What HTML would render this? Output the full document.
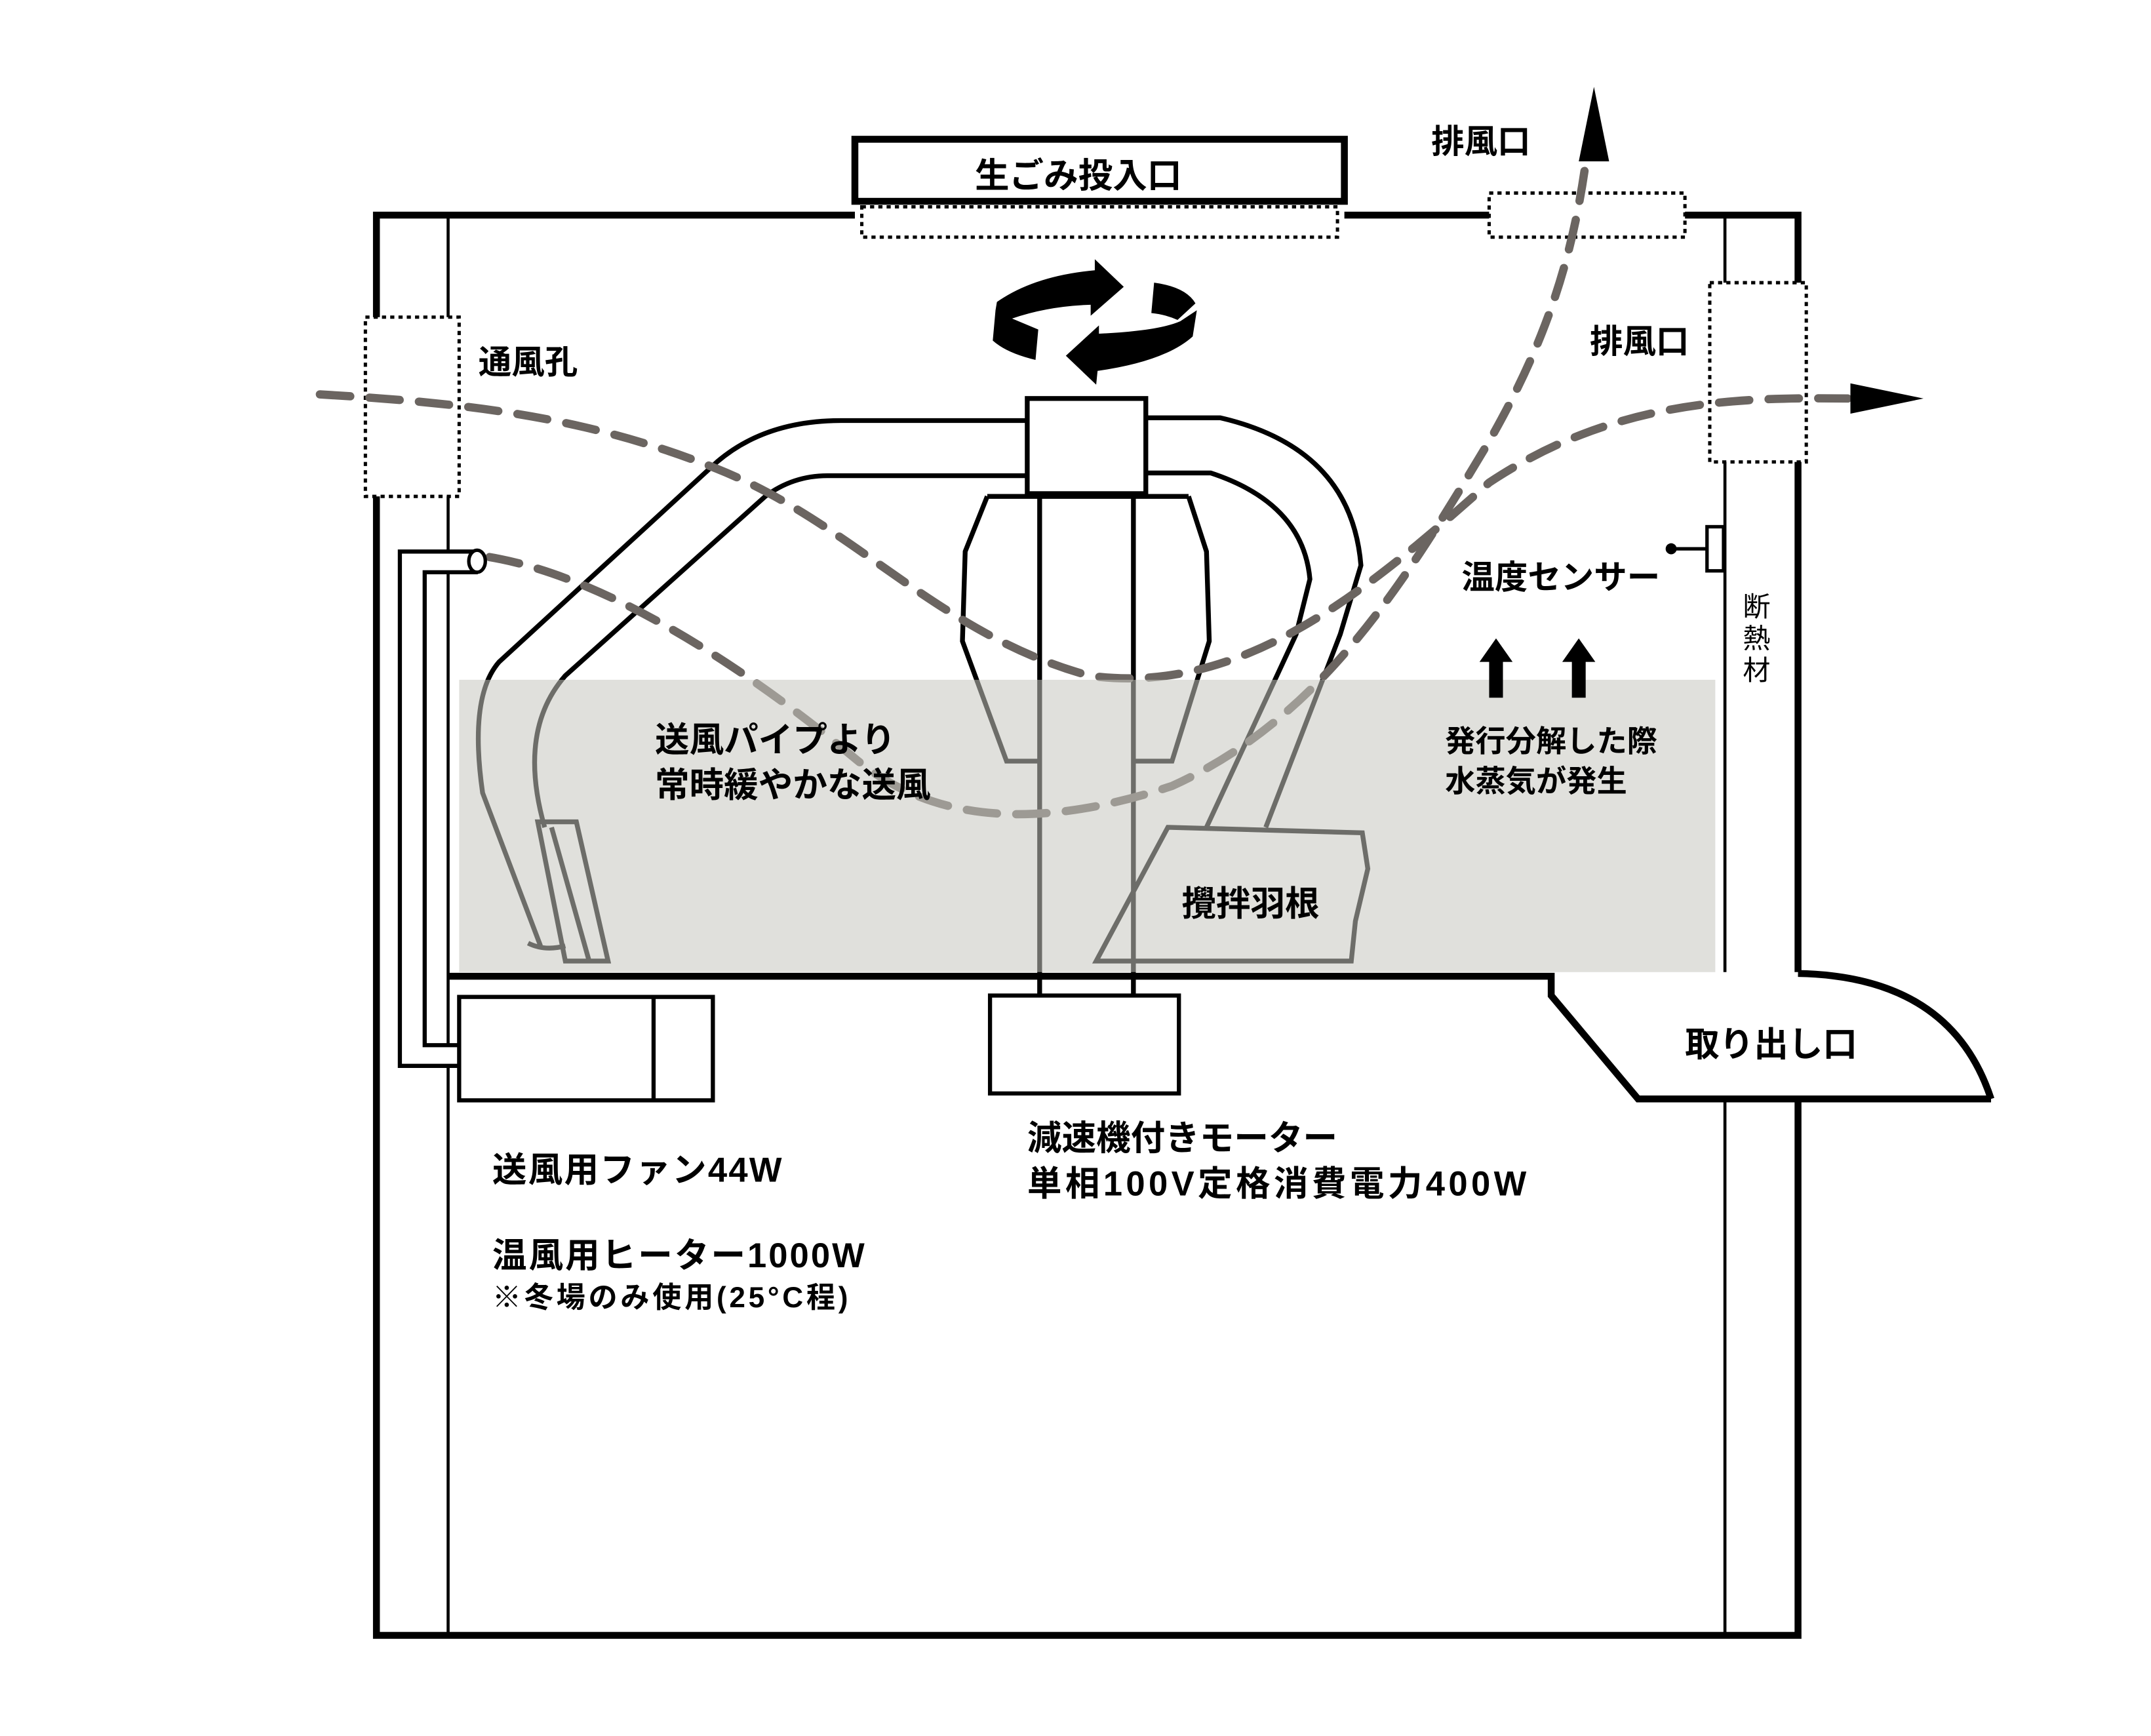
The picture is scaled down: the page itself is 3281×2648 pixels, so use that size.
<!DOCTYPE html>
<html><head><meta charset="utf-8"><style>
html,body{margin:0;padding:0;background:#fff;}
svg{display:block}
text{font-family:"Liberation Sans","Noto Sans CJK JP",sans-serif;font-weight:bold;fill:#000;}
</style></head><body>
<svg width="3281" height="2648" viewBox="0 0 1560 1259" preserveAspectRatio="none" xmlns="http://www.w3.org/2000/svg">
<rect width="1560" height="1259" fill="#fff"/>
<g fill="none" stroke="#000" stroke-width="5">
<polyline points="620,156 273,156 273,1186 1304,1186 1304,797"/>
<line x1="975" y1="156" x2="1080" y2="156"/>
<polyline points="1222,156 1304,156 1304,705"/>
<polyline points="325,708 1125,708 1125,722 1188,797 1444,797"/>
<path d="M1304,706 Q1415,708 1444,797"/>
<rect x="620" y="101" width="355" height="45"/>
</g>
<g stroke="#000" stroke-width="2.2" fill="none">
<line x1="325" y1="156" x2="325" y2="1186"/>
<line x1="1251" y1="156" x2="1251" y2="705"/>
<line x1="1251" y1="797" x2="1251" y2="1186"/>
</g>
<g fill="#fff" stroke="#000" stroke-width="2.4" stroke-dasharray="3,3">
<rect x="625" y="150" width="345" height="22"/>
<rect x="1080" y="140" width="142" height="32"/>
<rect x="1240" y="205" width="70" height="130"/>
<rect x="265" y="230" width="68" height="130"/>
</g>
<g stroke="#000" stroke-width="2.5" fill="#fff">
<rect x="1238" y="382" width="12" height="32"/>
<line x1="1212" y1="398" x2="1238" y2="398"/>
</g>
<circle cx="1212" cy="398" r="4" fill="#000"/>
<g fill="none" stroke="#000" stroke-width="3.5">
<path d="M745,305 L610,305 Q555,305 520,335 L362,480 Q340,505 350,575 L392,686"/>
<path d="M745,345 L600,345 Q575,345 555,360 L410,490 Q375,530 395,600"/>
<path d="M831,303 L885,303 Q980,325 987,410 L972,460 L918,600"/>
<path d="M831,343 L878,343 Q945,365 950,420 L940,460 L875,600"/>
<path d="M716,360 L700,400 L698,465 L730,552 L754,552"/>
<path d="M862,360 L875,400 L877,465 L850,552 L822,552"/>
<line x1="716" y1="360" x2="862" y2="360"/>
<line x1="754" y1="360" x2="754" y2="722"/>
<line x1="822" y1="360" x2="822" y2="722"/>
<path d="M390,596 L418,596 L441,697 L410,697 Z"/>
<line x1="400" y1="600" x2="427" y2="696"/>
<path d="M383,684 Q395,690 410,686"/>
<path d="M847,600 L988,604 L992,630 L983,668 L980,697 L795,697 Z"/>
</g>
<rect x="745" y="289" width="86" height="69" fill="#fff" stroke="#000" stroke-width="3.5"/>
<g fill="none" stroke="#6b6561" stroke-width="6" stroke-dasharray="22,14" stroke-linecap="round">
<path d="M232,286 C330,292 420,300 520,340 C620,380 680,460 790,490 C900,505 990,430 1080,350 C1170,290 1260,288 1340,289"/>
<path d="M355,404 C450,420 560,500 620,550 C680,600 760,600 850,570 C960,520 1020,420 1080,320 C1120,250 1140,190 1150,118"/>
</g>
<polygon points="1342,278 1395,289 1342,300" fill="#000"/>
<polygon points="1145,117 1156,63 1167,117" fill="#000"/>
<g fill="#fff" stroke="#000" stroke-width="3">
<path d="M290,400 L345,400 L345,415 L308,415 L308,758 L340,758 L340,773 L290,773 Z"/>
</g>
<ellipse cx="346" cy="407" rx="6" ry="8" fill="#fff" stroke="#000" stroke-width="2.5"/>
<rect x="333" y="493" width="911" height="212" fill="#c6c6bf" fill-opacity="0.55"/>
<g fill="#fff" stroke="#000" stroke-width="3">
<rect x="333" y="723" width="184" height="75"/>
<rect x="718" y="722" width="137" height="71"/>
</g>
<line x1="474" y1="723" x2="474" y2="798" stroke="#000" stroke-width="3"/>
<g fill="#000">
<path d="M723,219 Q750,200 794,196 L794,188 L815,208 L791,229 L791,221 Q760,222 734,231 L753,239 L751,261 Q730,256 720,247 L722,225 Z"/>
<path d="M773,258 L797,236 L797,242 Q840,240 856,233 L868,225 L865,244 Q845,262 796,269 L795,279 Z"/>
<path d="M837,205 Q860,208 867,220 L854,232 Q845,228 835,227 Z"/>
</g>
<g fill="#000">
<polygon points="1073,480 1085,463 1097,480 1090,480 1090,506 1080,506 1080,480"/>
<polygon points="1133,480 1145,463 1157,480 1150,480 1150,506 1140,506 1140,480"/>
</g>
<text x="782" y="136" font-size="25" text-anchor="middle">生ごみ投入口</text>
<text x="1038" y="111" font-size="24">排風口</text>
<text x="1153" y="256" font-size="24">排風口</text>
<text x="347" y="271" font-size="24">通風孔</text>
<text x="1060" y="427" font-size="24">温度センサー</text>
<text x="1264" y="447" font-size="20" style="font-weight:normal">断</text>
<text x="1264" y="470" font-size="20" style="font-weight:normal">熱</text>
<text x="1264" y="493" font-size="20" style="font-weight:normal">材</text>
<text x="475" y="545" font-size="25">送風パイプより</text>
<text x="475" y="578" font-size="25">常時緩やかな送風</text>
<text x="1048" y="545" font-size="22">発行分解した際</text>
<text x="1048" y="574" font-size="22">水蒸気が発生</text>
<text x="857" y="664" font-size="25">攪拌羽根</text>
<text x="1222" y="766" font-size="25">取り出し口</text>
<text x="745" y="834" font-size="25">減速機付きモーター</text>
<text x="745" y="867" font-size="25" textLength="362">単相100V定格消費電力400W</text>
<text x="357" y="857" font-size="25" textLength="210">送風用ファン44W</text>
<text x="357" y="919" font-size="25" textLength="270">温風用ヒーター1000W</text>
<text x="357" y="948" font-size="21" textLength="258">※冬場のみ使用(25°C程)</text>
</svg>
</body></html>
